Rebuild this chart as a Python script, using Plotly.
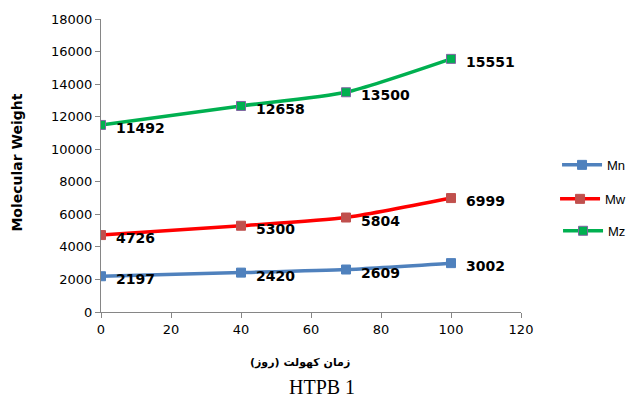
import plotly.graph_objects as go

# Aging time (days) and molecular weight averages for HTPB 1
days = [0, 40, 70, 100]
mn = [2197, 2420, 2609, 3002]
mw = [4726, 5300, 5804, 6999]
mz = [11492, 12658, 13500, 15551]

series = [
    ("Mn", mn, "#4F81BD", "#4F81BD", "#4F81BD", "legend", 0.502),
    ("Mw", mw, "#FF0000", "#C0504D", "#C0504D", "legend2", 0.386),
    ("Mz", mz, "#00B050", "#00B050", "#8064A2", "legend3", 0.277),
]

fig = go.Figure()
annotations = []
legend_layout = {}
for name, vals, line_c, mk_c, mk_line, leg, leg_y in series:
    fig.add_trace(go.Scatter(
        x=days, y=vals, name=name, mode="lines+markers", legend=leg,
        line=dict(color=line_c, width=3.5, shape="spline", smoothing=0.6),
        marker=dict(symbol="square", size=9, color=mk_c,
                    line=dict(color=mk_line, width=1)),
    ))
    legend_layout[leg] = dict(
        x=1.262, y=leg_y, xanchor="right", yanchor="middle",
        bgcolor="rgba(0,0,0,0)", itemwidth=40,
        font=dict(family="Liberation Sans", size=13, color="#000000"),
    )
    for xv, yv in zip(days, vals):
        annotations.append(dict(
            x=xv, y=yv, xref="x", yref="y", text=str(yv), showarrow=False,
            xanchor="left", yanchor="middle", xshift=13, yshift=-3,
            font=dict(family="DejaVu Sans", size=14, color="#000000", weight="bold"),
        ))

annotations += [
    dict(text="Molecular Weight", xref="paper", yref="paper", x=-0.2, y=0.51,
         textangle=-90, showarrow=False, xanchor="center", yanchor="middle",
         font=dict(family="DejaVu Sans", size=14, color="#000000", weight="bold")),
    dict(text="زمان کهولت (روز)", xref="paper", yref="paper", x=0.474, y=-0.172,
         showarrow=False, xanchor="center", yanchor="middle",
         font=dict(family="DejaVu Sans", size=11, color="#000000", weight="bold")),
    dict(text="HTPB 1", xref="paper", yref="paper", x=0.527, y=-0.257,
         showarrow=False, xanchor="center", yanchor="middle",
         font=dict(family="Liberation Serif", size=20, color="#000000")),
]

fig.update_layout(
    width=630, height=400,
    margin=dict(l=101, r=109, t=19, b=88, autoexpand=False),
    paper_bgcolor="white", plot_bgcolor="white",
    font=dict(family="DejaVu Sans", size=13, color="#000000"),
    showlegend=True,
    annotations=annotations,
    xaxis=dict(range=[0, 120], tickvals=[0, 20, 40, 60, 80, 100, 120],
               showgrid=False, zeroline=False, showline=True,
               linecolor="#868686", linewidth=1, ticks="outside",
               ticklen=5, tickcolor="#868686", tickfont=dict(size=13)),
    yaxis=dict(range=[0, 18000], dtick=2000, tickformat="d", showgrid=False,
               zeroline=False, showline=True, linecolor="#868686", linewidth=1,
               ticks="outside", ticklen=5, tickcolor="#868686",
               tickfont=dict(size=13)),
    **legend_layout,
)

fig.write_html("out.html")
